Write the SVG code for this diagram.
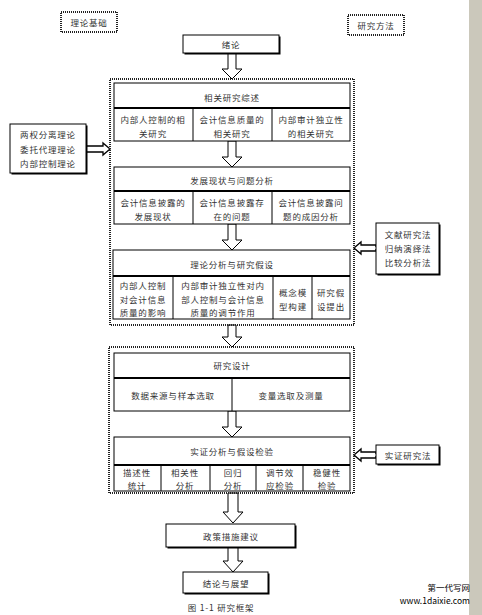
<svg xmlns="http://www.w3.org/2000/svg" width="482" height="615" viewBox="0 0 482 615">
<defs>
<style>
text{font-family:"Noto Sans CJK SC","Liberation Sans",sans-serif;font-size:8.5px;fill:#333;text-anchor:middle;dominant-baseline:central;letter-spacing:0.8px}
.box{fill:#fff;stroke:#000;stroke-width:1}
.shadow{fill:#000}
.dot{fill:none;stroke:#222;stroke-width:2;stroke-dasharray:1 1}
.sec{fill:#fff;stroke:#000;stroke-width:1}
.thin{stroke:#000;stroke-width:1}
.thick{stroke:#000;stroke-width:2}
.arr{fill:#fff;stroke:#000;stroke-width:1}
.harr{fill:#fff;stroke:#000;stroke-width:1.3}
.wm{font-family:"Noto Sans CJK SC","DejaVu Sans",sans-serif;fill:#000;text-anchor:end;letter-spacing:0}
</style>
</defs>
<rect x="0" y="0" width="482" height="615" fill="#fff"/>
<rect x="469" y="0" width="13" height="615" fill="#cbc8bb"/>

<g id="label-theory">
<rect x="61" y="12" width="56" height="20" class="dot" stroke-width="1.5"/>
<text x="89" y="22">理论基础</text>
</g>
<g id="label-method">
<rect x="348" y="15" width="56" height="20" class="dot" stroke-width="1.5"/>
<text x="376" y="25">研究方法</text>
</g>

<g id="connectors">
<polygon class="arr" points="228,53 236,53 236,69 242,69 232,79 222,69 228,69"/>
<polygon class="arr" points="228,141 236,141 236,157 242,157 232,167 222,157 228,157"/>
<polygon class="arr" points="228,224 236,224 236,240 242,240 232,250 222,240 228,240"/>
<polygon class="arr" points="228,325 236,325 236,337 242,337 232,347 222,337 228,337"/>
<polygon class="arr" points="228,411 236,411 236,427 242,427 232,437 222,427 228,427"/>
<polygon class="arr" points="228,493 238,493 238,512 243,512 233,523 223,512 228,512"/>
<polygon class="arr" points="228,547 238,547 238,561 243,561 233,572 223,561 228,561"/>
<polygon class="harr" points="86,146 103,146 103,143 110,149 103,155 103,152 86,152"/>
<line x1="86" y1="149" x2="103" y2="149" stroke="#fff" stroke-width="2"/>
<polygon class="harr" points="376,245 361,245 361,242 354,248 361,254 361,251 376,251"/>
<line x1="361" y1="248" x2="376" y2="248" stroke="#fff" stroke-width="2"/>
<polygon class="harr" points="376,452 361,452 361,449 354,455 361,461 361,458 376,458"/>
<line x1="361" y1="455" x2="376" y2="455" stroke="#fff" stroke-width="2"/>
</g>

<g id="intro">
<rect x="184.5" y="36.5" width="96" height="18" class="shadow"/>
<rect x="183" y="35" width="96" height="18" class="box"/>
<text x="231" y="44">绪论</text>
</g>

<g id="group1">
<rect x="110" y="79" width="244" height="246" class="dot"/>
</g>

<g id="review">
<rect x="114" y="83" width="236" height="58" class="sec"/>
<line x1="114" y1="108" x2="350" y2="108" class="thick"/>
<line x1="193" y1="108" x2="193" y2="141" class="thin"/>
<line x1="272" y1="108" x2="272" y2="141" class="thin"/>
<text x="232" y="97">相关研究综述</text>
<text x="153" y="119">内部人控制的相</text>
<text x="153" y="133">关研究</text>
<text x="232" y="119">会计信息质量的</text>
<text x="232" y="133">相关研究</text>
<text x="311" y="119">内部审计独立性</text>
<text x="311" y="133">的相关研究</text>
</g>

<g id="status">
<rect x="114" y="167" width="236" height="57" class="sec"/>
<line x1="114" y1="191" x2="350" y2="191" class="thick"/>
<line x1="193" y1="191" x2="193" y2="224" class="thin"/>
<line x1="272" y1="191" x2="272" y2="224" class="thin"/>
<text x="232" y="180">发展现状与问题分析</text>
<text x="153" y="202">会计信息披露的</text>
<text x="153" y="216">发展现状</text>
<text x="232" y="202">会计信息披露存</text>
<text x="232" y="216">在的问题</text>
<text x="311" y="202">会计信息披露问</text>
<text x="311" y="216">题的成因分析</text>
</g>

<g id="theory">
<rect x="113" y="250" width="237" height="69" class="sec"/>
<line x1="113" y1="276" x2="350" y2="276" class="thick"/>
<line x1="173" y1="276" x2="173" y2="319" class="thin"/>
<line x1="273" y1="276" x2="273" y2="319" class="thin"/>
<line x1="312" y1="276" x2="312" y2="319" class="thin"/>
<text x="232" y="264">理论分析与研究假设</text>
<text x="143" y="285">内部人控制</text>
<text x="143" y="299">对会计信息</text>
<text x="143" y="312">质量的影响</text>
<text x="223" y="285">内部审计独立性对内</text>
<text x="223" y="299">部人控制与会计信息</text>
<text x="223" y="312">质量的调节作用</text>
<text x="293" y="292">概念模</text>
<text x="293" y="306">型构建</text>
<text x="331" y="292">研究假</text>
<text x="331" y="306">设提出</text>
</g>

<g id="group2">
<rect x="109" y="347" width="245" height="146" class="dot"/>
</g>

<g id="design">
<rect x="114" y="353" width="236" height="58" class="sec"/>
<line x1="114" y1="378" x2="350" y2="378" class="thick"/>
<line x1="232" y1="378" x2="232" y2="411" class="thin"/>
<text x="232" y="365">研究设计</text>
<text x="173" y="395">数据来源与样本选取</text>
<text x="291" y="395">变量选取及测量</text>
</g>

<g id="empirical">
<rect x="114" y="437" width="236" height="54" class="sec"/>
<line x1="114" y1="465" x2="350" y2="465" class="thick"/>
<line x1="161" y1="465" x2="161" y2="491" class="thin"/>
<line x1="210" y1="465" x2="210" y2="491" class="thin"/>
<line x1="256" y1="465" x2="256" y2="491" class="thin"/>
<line x1="303" y1="465" x2="303" y2="491" class="thin"/>
<text x="232" y="451">实证分析与假设检验</text>
<text x="137" y="472">描述性</text>
<text x="137" y="484.5">统计</text>
<text x="185" y="472">相关性</text>
<text x="185" y="484.5">分析</text>
<text x="233" y="472">回归</text>
<text x="233" y="484.5">分析</text>
<text x="280" y="472">调节效</text>
<text x="280" y="484.5">应检验</text>
<text x="327" y="472">稳健性</text>
<text x="327" y="484.5">检验</text>
</g>

<g id="policy">
<rect x="167.5" y="525.5" width="129" height="23" class="shadow"/>
<rect x="166" y="524" width="129" height="23" class="box"/>
<text x="231" y="536">政策措施建议</text>
</g>

<g id="conclusion">
<rect x="184.5" y="573.5" width="85" height="21" class="shadow"/>
<rect x="183" y="572" width="85" height="21" class="box"/>
<text x="226" y="583">结论与展望</text>
</g>

<g id="theories">
<rect x="11.5" y="125.5" width="76" height="49" class="shadow"/>
<rect x="10" y="124" width="76" height="49" class="box"/>
<text x="48" y="134">两权分离理论</text>
<text x="48" y="149">委托代理理论</text>
<text x="48" y="163">内部控制理论</text>
</g>

<g id="methods1">
<rect x="377.5" y="224.5" width="63" height="51" class="shadow"/>
<rect x="376" y="223" width="63" height="51" class="box"/>
<text x="408" y="234">文献研究法</text>
<text x="408" y="248">归纳演绎法</text>
<text x="408" y="262">比较分析法</text>
</g>

<g id="methods2">
<rect x="377.5" y="446.5" width="63" height="19" class="shadow"/>
<rect x="376" y="445" width="63" height="19" class="box"/>
<text x="408" y="455">实证研究法</text>
</g>

<text x="221" y="607" font-size="8">图 1-1 研究框架</text>
<text class="wm" x="470" y="587" font-size="11">第一代写网</text>
<text class="wm" x="470" y="600" font-size="10.5">www.1daixie.com</text>
</svg>
